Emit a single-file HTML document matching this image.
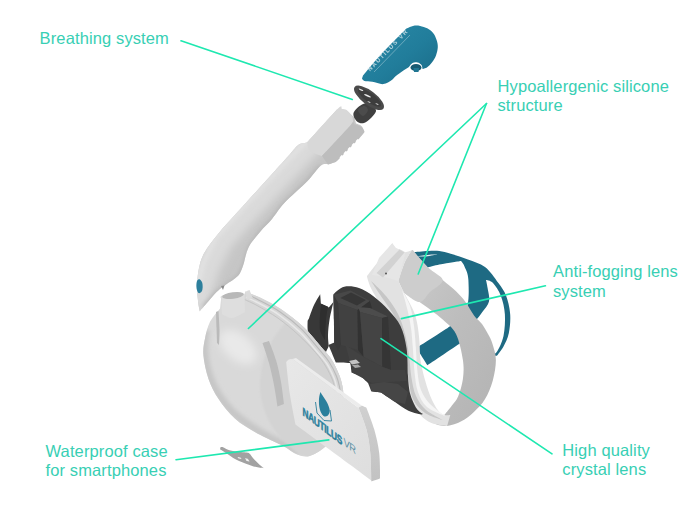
<!DOCTYPE html>
<html><head><meta charset="utf-8">
<style>
html,body{margin:0;padding:0;background:#fff;width:700px;height:509px;overflow:hidden}
svg{position:absolute;left:0;top:0}
.lbl text{font-family:"Liberation Sans",sans-serif;font-size:16.5px;fill:#38cfb4;letter-spacing:0.12px}
</style></head><body>
<svg width="700" height="509" viewBox="0 0 700 509">
<defs>
  <filter id="b2" x="-20%" y="-20%" width="140%" height="140%"><feGaussianBlur stdDeviation="2"/></filter>
  <filter id="b4" x="-30%" y="-30%" width="160%" height="160%"><feGaussianBlur stdDeviation="4"/></filter>
  <filter id="b1" x="-20%" y="-20%" width="140%" height="140%"><feGaussianBlur stdDeviation="0.8"/></filter>
  <linearGradient id="cap" x1="0" y1="0" x2="1" y2="1">
    <stop offset="0" stop-color="#2a8aa8"/><stop offset="0.55" stop-color="#217d9b"/><stop offset="1" stop-color="#1a6a86"/>
  </linearGradient>
  <linearGradient id="band" x1="0" y1="0" x2="1" y2="1">
    <stop offset="0" stop-color="#cdcdcd"/><stop offset="0.5" stop-color="#bdbdbd"/><stop offset="1" stop-color="#b3b3b3"/>
  </linearGradient>
  <linearGradient id="case" x1="0" y1="0" x2="1" y2="1">
    <stop offset="0" stop-color="#e8e8e8"/><stop offset="1" stop-color="#dedede"/>
  </linearGradient>
  <linearGradient id="side" x1="0" y1="0" x2="0" y2="1">
    <stop offset="0" stop-color="#d0d0d0"/><stop offset="1" stop-color="#c2c2c2"/>
  </linearGradient>
</defs>
<path d="M414.1 252.0 C414.1 252.0,423.7 251.1,427.9 250.9 C432.1 250.7,435.5 250.4,439.3 250.9 C443.1 251.4,445.9 252.3,450.7 253.7 C455.5 255.1,462.2 257.2,467.9 259.4 C473.6 261.6,479.9 263.1,485.0 267.0 C490.1 270.9,494.7 278.0,498.2 282.8 C501.7 287.6,504.2 290.7,506.2 296.0 C508.2 301.3,509.8 308.4,510.2 314.6 C510.6 320.8,509.9 327.9,508.8 333.2 C507.7 338.5,505.5 342.7,503.5 346.5 C501.5 350.3,496.9 355.8,496.9 355.8 C496.9 355.8,490.0 356.0,490.0 356.0 C490.0 356.0,460.5 343.0,460.5 343.0 C460.5 343.0,427.4 365.3,427.4 365.3 C427.4 365.3,416.6 348.0,416.6 348.0 C416.6 348.0,446.8 328.6,446.8 328.6 C446.8 328.6,462.4 318.1,466.0 310.0 C469.6 301.9,468.7 287.3,468.4 280.0 C468.1 272.7,465.6 269.4,464.4 266.3 C463.2 263.2,461.0 261.1,461.0 261.1 C461.0 261.1,456.6 261.7,453.0 262.3 C449.4 262.9,443.5 263.8,439.3 264.6 C435.1 265.5,427.9 267.4,427.9 267.4 C427.9 267.4,414.1 258.0,414.1 258.0 C414.1 258.0,414.1 252.0,414.1 252.0Z" fill="#1e6a83" />
<path d="M486.0 280.0 C486.0 280.0,490.5 280.3,493.0 283.0 C495.5 285.7,498.9 290.7,500.9 296.0 C502.9 301.3,504.5 308.0,504.9 314.6 C505.3 321.2,504.8 329.7,503.5 335.9 C502.2 342.1,499.1 348.4,496.9 351.8 C494.6 355.2,490.0 356.0,490.0 356.0 C490.0 356.0,474.3 322.6,474.3 322.6 C474.3 322.6,479.9 315.5,482.3 312.0 C484.8 308.5,488.1 305.4,489.0 301.4 C489.9 297.4,488.1 291.7,487.6 288.1 C487.1 284.5,486.0 280.0,486.0 280.0Z" fill="#ffffff" />
<path d="M415.0 256.5 C415.0 256.5,422.2 255.4,426.0 255.0 C429.8 254.6,437.5 254.2,437.5 254.2 C437.5 254.2,429.8 256.0,426.0 256.4 C422.2 256.8,415.0 256.5,415.0 256.5Z" fill="#ffffff" opacity="0.9"/>
<path d="M412.4 249.7 C412.4 249.7,422.8 262.3,427.9 267.4 C432.9 272.4,438.0 276.0,442.7 280.0 C447.4 284.0,452.2 287.6,456.0 291.3 C459.8 295.0,462.5 297.9,465.5 302.0 C468.5 306.1,471.4 312.0,474.2 315.7 C476.9 319.4,479.7 320.9,482.0 324.0 C484.3 327.1,486.2 330.7,488.0 334.0 C489.8 337.3,491.2 339.7,492.5 344.0 C493.8 348.3,495.8 353.9,495.9 360.0 C495.9 366.1,494.6 373.8,492.8 380.4 C491.0 386.9,488.0 394.1,484.9 399.3 C481.8 404.6,477.8 408.2,473.9 411.9 C470.0 415.6,465.8 418.9,461.3 421.3 C456.9 423.7,451.4 425.5,447.2 426.0 C443.0 426.5,436.2 424.5,436.2 424.5 C436.2 424.5,445.6 413.5,445.6 413.5 C445.6 413.5,449.8 408.5,451.9 405.6 C454.0 402.7,456.4 400.6,458.2 396.2 C460.0 391.8,462.1 384.9,462.9 378.9 C463.7 372.9,464.0 367.5,462.9 360.0 C461.8 352.5,459.3 340.7,456.0 334.0 C452.7 327.3,447.1 323.7,443.0 319.8 C438.9 315.9,435.2 313.3,431.3 310.4 C427.4 307.4,424.0 305.1,419.5 302.1 C415.0 299.2,404.1 292.7,404.1 292.7 C404.1 292.7,398.5 281.0,398.5 281.0 C398.5 281.0,402.7 267.2,405.0 262.0 C407.3 256.8,412.4 249.7,412.4 249.7Z" fill="url(#band)"/>
<path d="M412.4 249.7 C412.4 249.7,422.8 262.3,427.9 267.4 C432.9 272.4,442.3 275.9,442.7 280.0 C443.1 284.1,433.9 288.3,430.0 292.0 C426.1 295.7,423.8 302.0,419.5 302.1 C415.2 302.2,404.1 292.7,404.1 292.7 C404.1 292.7,398.5 281.0,398.5 281.0 C398.5 281.0,402.7 267.2,405.0 262.0 C407.3 256.8,412.4 249.7,412.4 249.7Z" fill="#cdcdcd" />
<path d="M392.3 243.3 C392.3 243.3,394.3 247.0,395.8 248.1 C397.3 249.2,399.7 249.4,401.3 250.1 C402.9 250.8,403.6 252.2,405.4 252.2 C407.2 252.2,412.3 250.1,412.3 250.1 C412.3 250.1,407.3 256.9,405.0 262.0 C402.7 267.1,398.5 281.0,398.5 281.0 C398.5 281.0,401.3 287.3,401.3 287.3 C401.3 287.3,405.9 295.9,408.0 300.0 C410.1 304.1,412.4 307.8,414.0 312.0 C415.6 316.2,416.6 320.0,417.5 325.0 C418.4 330.0,419.0 336.2,419.5 342.0 C420.0 347.8,419.6 353.7,420.5 360.0 C421.4 366.3,423.1 373.3,425.0 380.0 C426.9 386.7,429.4 394.4,432.0 400.0 C434.6 405.6,437.8 411.0,440.9 413.5 C443.9 416.0,450.3 415.0,450.3 415.0 C450.3 415.0,447.2 426.0,447.2 426.0 C447.2 426.0,435.9 424.7,431.4 422.9 C426.9 421.1,423.5 418.4,420.4 415.0 C417.3 411.6,414.6 407.2,412.6 402.5 C410.6 397.8,409.3 392.5,408.6 386.7 C407.9 380.9,409.3 374.0,408.5 367.9 C407.7 361.8,405.9 355.5,404.0 350.0 C402.1 344.5,399.3 339.7,397.0 335.0 C394.7 330.3,392.8 327.2,390.0 322.0 C387.2 316.8,383.2 309.7,380.0 304.0 C376.8 298.3,373.1 292.6,370.9 288.0 C368.7 283.4,366.9 276.3,366.9 276.3 C366.9 276.3,392.3 243.3,392.3 243.3Z" fill="#e2e2e2" />
<path d="M379.0 258.0 L392.3 243.3 L395.8 248.1 L405.4 252.2 L398.5 281.0 L385.0 277.0 L372.0 275.0Z" fill="#e6e6e6" />
<path d="M376.5 273.0 L399.5 249.5 L404.5 252.5 L383.0 277.5Z" fill="#d2d2d2" />
<circle cx="386" cy="273.5" r="1" fill="#555"/>
<path d="M371.0 281.0 C371.0 281.0,381.5 290.5,386.0 296.0 C390.5 301.5,394.8 307.7,398.0 314.0 C401.2 320.3,403.2 327.2,405.0 334.0 C406.8 340.8,407.9 347.7,409.0 355.0 C410.1 362.3,410.3 371.2,411.5 378.0 C412.7 384.8,413.6 390.7,416.0 396.0 C418.4 401.3,421.3 405.9,426.0 410.0 C430.7 414.1,444.0 420.5,444.0 420.5 C444.0 420.5,430.2 416.6,425.0 413.0 C419.8 409.4,415.8 404.8,413.0 399.0 C410.2 393.2,409.7 385.2,408.5 378.0 C407.3 370.8,407.1 363.0,406.0 356.0 C404.9 349.0,403.8 342.5,402.0 336.0 C400.2 329.5,398.2 323.2,395.0 317.0 C391.8 310.8,387.0 305.0,383.0 299.0 C379.0 293.0,371.0 281.0,371.0 281.0Z" fill="#c6c6c6" />
<path d="M402.0 290.0 C402.0 290.0,408.0 300.0,410.0 306.0 C412.0 312.0,413.0 318.7,414.0 326.0 C415.0 333.3,415.4 342.3,416.0 350.0 C416.6 357.7,416.7 365.3,417.5 372.0 C418.3 378.7,418.9 384.7,421.0 390.0 C423.1 395.3,425.8 399.6,430.0 404.0 C434.2 408.4,446.0 416.5,446.0 416.5 C446.0 416.5,431.7 411.1,427.0 407.0 C422.3 402.9,420.1 397.8,418.0 392.0 C415.9 386.2,415.3 379.0,414.5 372.0 C413.7 365.0,413.6 357.3,413.0 350.0 C412.4 342.7,412.0 335.0,411.0 328.0 C410.0 321.0,408.5 314.3,407.0 308.0 C405.5 301.7,402.0 290.0,402.0 290.0Z" fill="#f5f5f5" />
<path d="M333.5 294.2 C333.5 294.2,339.9 287.8,344.2 286.8 C348.4 285.8,354.1 286.4,359.0 288.0 C363.9 289.6,368.8 292.8,373.7 296.5 C378.6 300.2,383.9 305.1,388.4 310.0 C392.9 314.9,397.5 319.7,400.5 326.0 C403.5 332.3,405.2 339.7,406.5 348.0 C407.8 356.3,407.4 368.4,408.0 376.0 C408.6 383.6,408.7 388.0,410.1 393.4 C411.5 398.8,414.5 405.1,416.6 408.5 C418.8 411.9,423.0 414.0,423.0 414.0 C423.0 414.0,421.7 414.5,421.7 414.5 C421.7 414.5,413.0 412.9,408.4 410.7 C403.8 408.5,398.9 404.5,394.3 401.5 C389.7 398.5,381.0 392.5,381.0 392.5 C381.0 392.5,371.3 391.2,371.3 391.2 C371.3 391.2,368.0 383.0,368.0 383.0 C368.0 383.0,360.0 375.5,360.0 375.5 C360.0 375.5,351.5 372.5,351.5 372.5 C351.5 372.5,350.5 363.0,350.5 363.0 C350.5 363.0,335.9 362.5,335.9 362.5 C335.9 362.5,328.5 345.0,328.5 345.0 C328.5 345.0,334.3 342.5,334.3 342.5 C334.3 342.5,334.1 328.1,334.0 320.0 C333.9 311.9,333.5 294.2,333.5 294.2Z" fill="#3d3d3d" />
<path d="M320.2 294.2 C320.2 294.2,320.9 303.6,320.9 303.6 C320.9 303.6,328.8 307.5,328.8 307.5 C328.8 307.5,333.5 302.0,333.5 302.0 C333.5 302.0,330.5 313.8,329.6 319.3 C328.7 324.8,328.1 330.6,328.0 335.0 C327.9 339.4,328.8 346.0,328.8 346.0 C328.8 346.0,326.0 352.0,326.0 352.0 C326.0 352.0,317.9 347.0,315.0 344.0 C312.1 341.0,309.7 337.7,308.5 334.0 C307.3 330.3,307.5 324.7,307.6 322.0 C307.7 319.3,308.1 320.5,309.2 317.7 C310.2 314.9,312.1 309.1,313.9 305.2 C315.7 301.3,320.2 294.2,320.2 294.2Z" fill="#383838" />
<path d="M321.3 303.9 C321.3 303.9,328.0 306.5,328.0 306.5 C328.0 306.5,326.5 314.4,326.0 320.0 C325.5 325.6,325.0 340.0,325.0 340.0 C325.0 340.0,320.8 334.2,320.0 330.0 C319.2 325.8,319.8 319.4,320.0 315.0 C320.2 310.6,321.3 303.9,321.3 303.9Z" fill="#2e2e2e" />
<path d="M333.4 294.7 L350.6 290.6 L369.9 300.9 L357.5 309.9 L338.2 303.0Z" fill="#484848" />
<path d="M340.3 298.0 L351.0 292.5 L366.0 300.0 L357.0 305.5Z" fill="#363636" />
<path d="M333.4 294.7 L338.2 303.0 L341.0 345.0 L338.0 350.0 L334.3 342.5Z" fill="#3a3a3a" />
<path d="M338.2 303.0 L357.5 309.9 L358.0 350.0 L341.0 345.0Z" fill="#414141" />
<path d="M357.5 309.9 L369.9 300.9 L372.0 308.5 L360.0 312.0 L363.6 357.0 L358.0 350.0Z" fill="#323232" />
<path d="M358.0 307.0 L370.0 308.0 L388.0 316.5 L382.0 318.0 L360.0 312.0Z" fill="#4c4c4c" />
<path d="M360.0 312.0 L382.0 318.0 L382.3 366.8 L363.6 357.0Z" fill="#444444" />
<path d="M382.0 318.0 L388.0 316.5 L391.0 370.0 L382.3 366.8Z" fill="#353535" />
<path d="M345.5 345.0 L363.6 357.0 L382.3 366.8 L391.0 370.0 L405.0 370.0 L407.0 381.0 L372.0 383.0 L353.0 373.0Z" fill="#424242" />
<path d="M371.3 391.2 L381.0 392.5 L394.3 401.5 L405.0 404.0 L408.0 392.0 L398.0 384.0 L384.0 382.0 L370.0 384.0Z" fill="#464646" />
<path d="M349.0 361.0 C349.0 361.0,356.0 359.5,356.0 359.5 C356.0 359.5,360.0 363.0,360.0 363.0 C360.0 363.0,352.0 364.5,352.0 364.5 C352.0 364.5,349.0 361.0,349.0 361.0Z" fill="#c4c4c4" />
<path d="M352.0 365.0 C352.0 365.0,358.0 364.5,358.0 364.5 C358.0 364.5,361.0 367.0,361.0 367.0 C361.0 367.0,355.0 368.0,355.0 368.0 C355.0 368.0,352.0 365.0,352.0 365.0Z" fill="#a8a8a8" />
<clipPath id="tubeclip"><path d="M337.0 109.5 C337.0 109.5,347.0 111.0,347.0 111.0 C347.0 111.0,354.5 117.5,354.5 117.5 C354.5 117.5,356.0 123.5,356.0 123.5 C356.0 123.5,360.8 124.9,362.0 126.5 C363.2 128.1,363.5 133.0,363.5 133.0 C363.5 133.0,338.0 160.0,338.0 160.0 C338.0 160.0,332.8 163.1,330.0 164.0 C327.2 164.9,324.8 162.7,321.0 165.5 C317.2 168.3,313.6 174.7,307.5 181.0 C301.4 187.3,290.2 196.8,284.3 203.1 C278.4 209.4,276.1 214.2,272.0 219.0 C267.9 223.8,263.9 227.2,260.0 232.0 C256.1 236.8,251.2 242.1,248.4 247.7 C245.6 253.3,244.9 260.7,243.1 265.4 C241.3 270.1,240.8 272.8,237.8 276.0 C234.9 279.2,229.0 282.2,225.4 284.9 C221.8 287.6,220.0 288.5,216.5 292.0 C213.0 295.5,207.0 302.9,204.2 306.1 C201.4 309.3,199.7 311.4,199.7 311.4 C199.7 311.4,198.4 304.9,198.0 300.8 C197.6 296.7,197.0 291.9,197.1 286.6 C197.2 281.3,197.6 274.6,198.8 269.0 C200.0 263.4,200.9 258.9,204.2 253.0 C207.4 247.1,212.8 240.4,218.3 233.7 C223.8 226.9,230.0 220.3,237.1 212.5 C244.2 204.7,252.8 195.2,260.7 186.6 C268.6 177.9,278.4 167.2,284.3 160.6 C290.2 154.0,296.0 147.0,296.0 147.0 C296.0 147.0,299.4 144.0,299.4 144.0 C299.4 144.0,307.3 142.4,307.3 142.4 C307.3 142.4,337.0 109.5,337.0 109.5Z"/></clipPath>
<g clip-path="url(#tubeclip)"><rect x="190" y="100" width="180" height="220" fill="#c6c6c6"/><path d="M336 118 L310 146 L281 177 L248 212 L222 241 L209 267 L201 292 L198 310" stroke="#dadada" stroke-width="22" fill="none" filter="url(#b4)"/><path d="M329 118 L303 144 L274 174 L241 209 L215 238 L203 263 L196 290" stroke="#e2e2e2" stroke-width="6" fill="none" filter="url(#b2)"/><path d="M321 166.5 L307.5 182 L284.3 204.5 L272 220.5 L260 233.5 L249.5 249 L244.5 266 L239 277.5 L226 286.5 L216.5 293.5 L204.2 307.5" stroke="#b6b6b6" stroke-width="5" fill="none" filter="url(#b2)"/></g>
<path d="M307.3 142.4 C307.3 142.4,332.0 114.4,337.8 108.8 C343.6 103.2,340.5 108.7,342.0 108.9 C343.5 109.1,344.9 108.8,346.7 110.1 C348.4 111.4,352.5 116.5,352.5 116.5 C352.5 116.5,353.1 121.6,353.1 121.6 C353.1 121.6,352.9 122.8,350.0 126.0 C347.1 129.2,340.7 136.0,336.0 141.0 C331.3 146.0,322.0 156.0,322.0 156.0 C322.0 156.0,312.4 153.3,310.0 151.0 C307.6 148.7,307.3 142.4,307.3 142.4Z" fill="#d8d8d8" />
<path d="M353.1 121.6 C353.1 121.6,354.4 124.2,354.4 124.2 C354.4 124.2,360.4 126.1,362.1 127.4 C363.8 128.7,364.6 131.9,364.6 131.9 C364.6 131.9,359.5 138.2,359.5 138.2 C359.5 138.2,336.0 162.0,336.0 162.0 C336.0 162.0,328.0 164.5,328.0 164.5 C328.0 164.5,322.0 156.0,322.0 156.0 C322.0 156.0,331.3 146.0,336.0 141.0 C340.7 136.0,347.1 129.2,350.0 126.0 C352.9 122.8,353.1 121.6,353.1 121.6Z" fill="#bdbdbd" />
<path d="M357.5 138.9 L359.7 140.6 L357.2 142.9 L355.5 141.3Z" fill="#ffffff" />
<path d="M353.5 142.9 L355.7 144.6 L353.2 146.9 L351.5 145.3Z" fill="#ffffff" />
<path d="M349.5 146.9 L351.7 148.6 L349.2 150.9 L347.5 149.3Z" fill="#ffffff" />
<path d="M345.5 151.0 L347.7 152.7 L345.2 155.0 L343.5 153.4Z" fill="#ffffff" />
<path d="M341.5 155.0 L343.7 156.7 L341.2 159.0 L339.5 157.4Z" fill="#ffffff" />
<path d="M197.0 281.0 C197.6 279.6,199.1 279.0,200.0 279.5 C200.9 280.0,202.2 282.1,202.5 284.0 C202.8 285.9,202.7 289.5,202.0 291.0 C201.3 292.5,199.4 293.5,198.5 293.0 C197.6 292.5,196.8 290.0,196.5 288.0 C196.2 286.0,196.4 282.4,197.0 281.0Z" fill="#2d7f9c" />
<path d="M221.0 286.0 L224.5 285.5 L223.0 290.0Z" fill="#8a8a8a" />
<path d="M353.5 113.0 C354.3 110.2,359.2 106.0,362.0 104.5 C364.8 103.0,367.7 103.0,370.0 104.0 C372.3 105.0,375.8 108.2,376.0 110.5 C376.2 112.8,373.0 115.9,371.0 118.0 C369.0 120.1,366.3 122.4,364.0 123.0 C361.7 123.6,358.8 123.2,357.0 121.5 C355.2 119.8,352.7 115.8,353.5 113.0Z" fill="#404040" />
<path d="M358.0 110.0 C358.2 108.3,362.3 106.0,364.0 106.0 C365.7 106.0,368.2 108.3,368.0 110.0 C367.8 111.7,364.7 116.0,363.0 116.0 C361.3 116.0,357.8 111.7,358.0 110.0Z" fill="#4c4c4c" />
<ellipse cx="369" cy="97.8" rx="18" ry="7" transform="rotate(37 369 97.8)" fill="#4a4a4a"/>
<ellipse cx="369.5" cy="97.5" rx="14" ry="4.6" transform="rotate(37 369.5 97.5)" fill="#3d3d3d"/>
<ellipse cx="361" cy="89.8" rx="2.5" ry="0.7" transform="rotate(22 361 89.8)" fill="#e0e0e0"/>
<ellipse cx="367.5" cy="95.7" rx="3.6" ry="0.8" transform="rotate(25 367.5 95.7)" fill="#e8e8e8"/>
<ellipse cx="369" cy="102" rx="1.8" ry="0.6" transform="rotate(30 369 102)" fill="#bbbbbb"/>
<ellipse cx="377" cy="104" rx="1.8" ry="0.6" transform="rotate(30 377 104)" fill="#bbbbbb"/>
<path d="M362.0 78.6 C362.0 78.6,363.0 75.5,363.0 75.5 C363.0 75.5,373.2 62.8,380.0 55.4 C386.8 48.0,399.1 35.7,403.6 31.2 C408.1 26.7,405.5 29.2,407.1 28.3 C408.7 27.4,410.8 26.3,413.0 25.9 C415.2 25.5,417.7 25.5,420.1 25.9 C422.5 26.3,425.0 27.1,427.2 28.3 C429.4 29.5,431.5 31.1,433.1 33.0 C434.7 35.0,435.8 37.6,436.6 40.0 C437.4 42.4,437.9 44.5,437.8 47.1 C437.7 49.7,437.0 52.8,436.0 55.4 C435.0 58.0,433.4 60.5,431.9 62.5 C430.4 64.5,428.8 66.1,427.2 67.2 C425.6 68.3,422.5 69.0,422.5 69.0 C422.5 69.0,422.3 66.1,421.5 65.0 C420.7 63.9,419.0 62.8,417.5 62.5 C416.0 62.2,413.9 62.2,412.5 63.0 C411.1 63.8,409.0 67.0,409.0 67.0 C409.0 67.0,399.4 73.2,396.5 75.4 C393.6 77.6,394.0 78.5,391.8 80.0 C389.6 81.5,386.6 83.8,383.3 84.1 C380.1 84.4,375.5 82.3,372.3 81.8 C369.1 81.3,366.1 81.5,364.4 81.0 C362.7 80.5,362.0 78.6,362.0 78.6Z" fill="url(#cap)"/>
<text transform="translate(370,71.5) rotate(-46)" style="font-family:Liberation Sans,sans-serif;font-weight:bold;font-size:6px;fill:#e8f2f5;opacity:0.75;letter-spacing:1.4px">NAUTILUS VR</text>
<path d="M374 72 L410 35" stroke="#cfe3ea" stroke-width="0.6" opacity="0.7"/>
<ellipse cx="416" cy="67.5" rx="5.5" ry="3.6" fill="#175a72"/><path d="M413.5 68 L419 68 L418.5 72 L414 72Z" fill="#1f7592"/>
<clipPath id="shellclip"><path d="M221.1 298.4 C221.1 298.4,219.1 296.2,223.0 295.5 C226.9 294.8,244.6 294.2,244.6 294.2 C244.6 294.2,245.2 291.7,245.2 291.7 C245.2 291.7,253.9 294.6,260.0 297.6 C266.1 300.6,274.4 304.6,281.6 309.5 C288.8 314.4,296.8 320.7,303.3 326.8 C309.8 332.9,315.9 340.9,320.6 346.3 C325.3 351.7,328.3 354.5,331.4 359.2 C334.5 363.9,337.2 370.1,339.0 374.4 C340.8 378.7,341.5 381.9,342.2 385.2 C342.9 388.4,343.3 389.4,343.3 393.9 C343.3 398.4,343.1 406.0,342.0 412.0 C340.9 418.0,339.8 424.2,337.0 430.0 C334.2 435.8,330.1 442.3,325.5 446.6 C320.9 450.9,314.4 454.7,309.7 456.0 C305.0 457.3,301.3 456.0,297.2 454.5 C293.1 453.0,288.6 449.1,285.0 447.0 C281.4 444.9,280.3 444.7,275.3 442.2 C270.3 439.7,261.9 436.1,255.2 432.2 C248.5 428.3,241.2 424.4,235.1 418.8 C229.0 413.2,222.8 405.5,218.4 398.8 C214.0 392.1,210.9 385.9,208.4 378.7 C205.9 371.4,204.0 362.0,203.4 355.3 C202.8 348.6,203.9 344.1,205.0 338.5 C206.1 332.9,207.5 326.8,210.0 321.8 C212.5 316.8,220.1 308.4,220.1 308.4 C220.1 308.4,221.1 298.4,221.1 298.4Z"/></clipPath>
<g clip-path="url(#shellclip)"><rect x="195" y="285" width="150" height="175" fill="#d9d9d9"/><path d="M206 330 C200 360,210 390,232 412 C252 430,275 442,300 452" stroke="#c6c6c6" stroke-width="8" fill="none" filter="url(#b2)"/><ellipse cx="238" cy="347" rx="22" ry="13" transform="rotate(40 238 347)" fill="#e9e9e9" filter="url(#b4)"/><path d="M290 318 C272 335,260 360,260 385 C260 410,272 435,300 455 L350 470 L350 300Z" fill="#d3d3d3" filter="url(#b1)"/></g>
<path d="M245.2 291.7 C245.2 291.7,253.9 294.6,260.0 297.6 C266.1 300.6,274.4 304.6,281.6 309.5 C288.8 314.4,296.8 320.7,303.3 326.8 C309.8 332.9,315.9 340.9,320.6 346.3 C325.3 351.7,328.3 354.5,331.4 359.2 C334.5 363.9,337.2 370.1,339.0 374.4 C340.8 378.7,341.5 381.9,342.2 385.2 C342.9 388.4,343.3 393.9,343.3 393.9 C343.3 393.9,336.0 395.0,336.0 395.0 C336.0 395.0,335.8 384.8,334.5 380.0 C333.2 375.2,331.2 370.7,328.0 366.0 C324.8 361.3,320.5 357.3,315.5 352.0 C310.5 346.7,304.2 339.7,298.0 334.0 C291.8 328.3,284.8 322.8,278.0 318.0 C271.2 313.2,262.7 308.2,257.0 305.0 C251.3 301.8,244.0 299.0,244.0 299.0 C244.0 299.0,245.2 291.7,245.2 291.7Z" fill="#d6d6d6" />
<path d="M247.0 294.5 C249.0 295.4,253.4 297.2,259.0 300.2 C264.6 303.1,273.4 307.4,280.5 312.2 C287.6 317.0,295.2 323.1,301.5 329.2 C307.8 335.3,313.9 343.3,318.5 348.7 C323.1 354.1,326.0 357.1,329.0 361.7 C332.0 366.3,334.8 372.0,336.5 376.2 C338.2 380.4,338.8 383.6,339.5 386.7 C340.2 389.8,340.3 393.6,340.5 395.0" fill="none" stroke="#bababa" stroke-width="1.1"/>
<path d="M246.0 297.2 C248.0 298.1,252.5 299.9,258.0 302.8 C263.5 305.7,272.1 310.0,279.0 314.8 C285.9 319.6,293.2 325.6,299.5 331.6 C305.8 337.6,311.9 345.6,316.5 351.0 C321.1 356.4,324.1 359.5,327.0 364.0 C329.9 368.5,332.3 373.9,334.0 378.0 C335.7 382.1,336.3 385.5,337.0 388.5 C337.7 391.5,337.8 394.8,338.0 396.0" fill="none" stroke="#e8e8e8" stroke-width="1.6"/>
<path d="M244.5 299.5 C246.6 300.5,251.4 302.4,257.0 305.5 C262.6 308.6,271.2 313.4,278.0 318.2 C284.8 323.0,291.8 328.8,298.0 334.5 C304.2 340.2,310.9 347.2,315.5 352.5 C320.1 357.8,322.7 361.4,325.5 366.0 C328.3 370.6,330.9 376.0,332.5 380.0 C334.1 384.0,334.4 387.2,335.0 390.0 C335.6 392.8,335.8 395.8,336.0 397.0" fill="none" stroke="#c4c4c4" stroke-width="1"/>
<path d="M245.2 291.7 C245.2 291.7,249.5 290.0,249.5 290.0 C249.5 290.0,252.7 298.0,252.7 298.0 C252.7 298.0,247.0 300.0,247.0 300.0 C247.0 300.0,245.2 291.7,245.2 291.7Z" fill="#dcdcdc" />
<path d="M221.5 297.7 C221.5 297.7,221.1 296.2,223.0 295.5 C224.9 294.8,229.4 293.7,233.0 293.5 C236.6 293.3,244.6 294.2,244.6 294.2 C244.6 294.2,245.0 312.0,245.0 312.0 C245.0 312.0,235.8 317.7,232.0 318.0 C228.2 318.3,222.0 314.0,222.0 314.0 C222.0 314.0,221.5 297.7,221.5 297.7Z" fill="#dedede" />
<ellipse cx="233" cy="295.5" rx="11" ry="3.2" transform="rotate(-8 233 295.5)" fill="#b8b8b8"/>
<path d="M262.5 343.0 C262.5 343.0,269.0 341.0,269.0 341.0 C269.0 341.0,274.0 353.2,276.0 360.0 C278.0 366.8,279.7 374.7,281.0 382.0 C282.3 389.3,284.0 404.0,284.0 404.0 C284.0 404.0,277.5 406.5,277.5 406.5 C277.5 406.5,275.4 392.2,274.0 385.0 C272.6 377.8,270.9 370.0,269.0 363.0 C267.1 356.0,262.5 343.0,262.5 343.0Z" fill="#bcbcbc" />
<path d="M216.0 312.0 C216.0 312.0,218.5 311.0,218.5 311.0 C218.5 311.0,219.4 324.3,219.5 330.0 C219.6 335.7,219.0 345.0,219.0 345.0 C219.0 345.0,217.0 343.0,217.0 343.0 C217.0 343.0,216.7 333.2,216.5 328.0 C216.3 322.8,216.0 312.0,216.0 312.0Z" fill="#bababa" />
<path d="M286.2 362.1 C286.2 362.1,287.9 360.0,289.0 359.5 C290.1 359.0,292.9 359.3,292.9 359.3 C292.9 359.3,358.5 407.7,358.5 407.7 C358.5 407.7,364.4 421.8,366.4 429.3 C368.4 436.8,369.5 444.4,370.3 452.9 C371.1 461.4,371.3 480.4,371.3 480.4 C371.3 480.4,295.6 424.6,295.6 424.6 C295.6 424.6,291.6 405.4,290.0 395.0 C288.4 384.6,286.2 362.1,286.2 362.1Z" fill="url(#case)"/>
<path d="M289.0 360.0 L292.9 359.3 L358.5 407.7 L362.0 405.8 L296.0 358.0Z" fill="#ececec" />
<path d="M358.5 407.7 C358.5 407.7,362.0 405.8,362.0 405.8 C362.0 405.8,366.4 407.7,366.4 407.7 C366.4 407.7,372.1 421.8,374.2 429.3 C376.3 436.8,378.2 444.7,379.2 452.9 C380.2 461.1,380.1 478.5,380.1 478.5 C380.1 478.5,371.3 481.4,371.3 481.4 C371.3 481.4,371.3 480.4,371.3 480.4 C371.3 480.4,371.1 461.4,370.3 452.9 C369.5 444.4,368.4 436.8,366.4 429.3 C364.4 421.8,358.5 407.7,358.5 407.7Z" fill="url(#side)"/>
<path d="M320.5 392 C323 397,328 402,329.5 409 C330.5 414,327 418,323.5 416 C320 413,318.5 406,319 399 C319.2 396,319.8 394,320.5 392Z" fill="#2a7f9c"/>
<path d="M315.5 402 L317 413 L324 420.5 L331.5 421 L330 410" fill="none" stroke="#2a7f9c" stroke-width="0.9"/>
<text transform="translate(302.5,415) skewY(37.5) scale(0.72,1)" style="font-family:Liberation Sans,sans-serif;font-weight:bold;font-size:11.5px;fill:#2a7f9c;stroke:#2a7f9c;stroke-width:0.5px;letter-spacing:-0.4px">NAUTILUS</text>
<text transform="translate(343.5,445) skewY(37.5) scale(0.85,1)" style="font-family:Liberation Sans,sans-serif;font-size:11px;fill:#5f93a6;letter-spacing:-0.5px">VR</text>
<path d="M220.2 447.6 C220.2 447.6,221.6 446.8,223.0 447.2 C224.4 447.6,226.1 449.2,228.6 450.0 C231.1 450.8,234.7 451.4,237.9 451.8 C241.2 452.2,248.1 452.7,248.1 452.7 C248.1 452.7,249.1 453.1,250.0 454.1 C250.9 455.1,252.2 457.2,253.6 458.8 C255.0 460.4,256.6 461.8,258.3 463.4 C260.0 465.0,264.0 468.3,264.0 468.3 C264.0 468.3,259.5 467.9,256.4 467.1 C253.3 466.3,249.2 464.9,245.3 463.4 C241.4 461.9,236.6 459.8,233.2 457.9 C229.8 456.0,227.1 453.7,224.9 452.3 C222.7 450.9,220.2 449.5,220.2 449.5 C220.2 449.5,220.2 447.6,220.2 447.6Z" fill="#a2a2a2" />
<path d="M237.5 457.0 C237.5 457.0,240.5 457.5,240.5 457.5 C240.5 457.5,241.5 459.0,241.5 459.0 C241.5 459.0,238.5 458.5,238.5 458.5 C238.5 458.5,237.5 457.0,237.5 457.0Z" fill="#f0f0f0" />
<path d="M245.0 458.0 C245.0 458.0,248.0 459.0,248.0 459.0 C248.0 459.0,249.5 461.5,249.5 461.5 C249.5 461.5,246.5 461.0,246.5 461.0 C246.5 461.0,245.0 458.0,245.0 458.0Z" fill="#f0f0f0" />
<g stroke="#1ee8b0" stroke-width="1.6" stroke-linecap="round" fill="none">
  <line x1="181" y1="40.8" x2="352.3" y2="99.4"/>
  <line x1="486.5" y1="103.5" x2="248.4" y2="328.5"/>
  <line x1="486.5" y1="103.5" x2="418.2" y2="274"/>
  <line x1="545.4" y1="285.8" x2="401.4" y2="318.6"/>
  <line x1="381" y1="338.7" x2="552" y2="453.9"/>
  <line x1="176" y1="459.7" x2="328.8" y2="439.9"/>
</g>
<g class="lbl">
<text x="39.6" y="44">Breathing system</text>
<text x="497.5" y="92">Hypoallergenic silicone</text>
<text x="497.5" y="110.9">structure</text>
<text x="553" y="277.2">Anti-fogging lens</text>
<text x="553" y="296.8">system</text>
<text x="562.3" y="455.8">High quality</text>
<text x="562.3" y="475">crystal lens</text>
<text x="45.5" y="457.4">Waterproof case</text>
<text x="45.5" y="476.4">for smartphones</text>
</g>
</svg>
</body></html>
